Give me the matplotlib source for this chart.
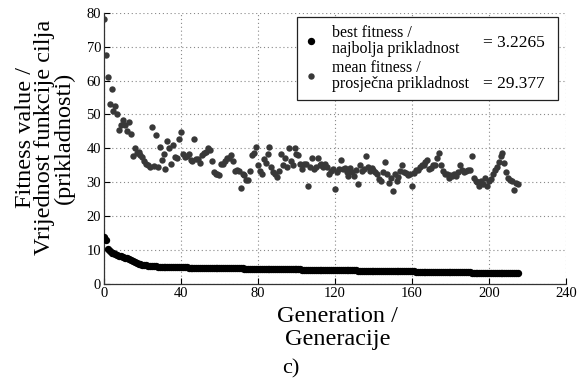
import matplotlib
matplotlib.use("Agg")
import matplotlib.pyplot as plt

generations = list(range(0, 216))

best_fitness = [
    13.8, 12.9, 10.4, 9.6, 9.2, 9.0, 8.8, 8.6, 8.4, 8.2,
    8.0, 7.8, 7.6, 7.3, 7.0, 6.7, 6.4, 6.2, 6.0, 5.8,
    5.7, 5.6, 5.5, 5.45, 5.4, 5.3, 5.25, 5.2, 5.15, 5.1,
    5.05, 5.0, 5.0, 4.98, 4.96, 4.95, 4.94, 4.93, 4.92, 4.91,
    4.9, 4.89, 4.88, 4.87, 4.86, 4.85, 4.84, 4.83, 4.82, 4.81,
    4.8, 4.79, 4.78, 4.77, 4.76, 4.75, 4.74, 4.73, 4.72, 4.71,
    4.7, 4.69, 4.68, 4.67, 4.66, 4.65, 4.64, 4.63, 4.62, 4.61,
    4.6, 4.59, 4.58, 4.57, 4.56, 4.55, 4.54, 4.53, 4.52, 4.51,
    4.5, 4.49, 4.48, 4.47, 4.46, 4.45, 4.44, 4.43, 4.42, 4.41,
    4.4, 4.39, 4.38, 4.37, 4.36, 4.35, 4.34, 4.33, 4.32, 4.31,
    4.3, 4.29, 4.28, 4.27, 4.26, 4.25, 4.24, 4.23, 4.22, 4.21,
    4.2, 4.19, 4.18, 4.17, 4.16, 4.15, 4.14, 4.13, 4.12, 4.11,
    4.1, 4.09, 4.08, 4.07, 4.06, 4.05, 4.04, 4.03, 4.02, 4.01,
    4.0, 3.99, 3.98, 3.97, 3.96, 3.95, 3.94, 3.93, 3.92, 3.91,
    3.9, 3.89, 3.88, 3.87, 3.86, 3.85, 3.84, 3.83, 3.82, 3.81,
    3.8, 3.79, 3.78, 3.77, 3.76, 3.75, 3.74, 3.73, 3.72, 3.71,
    3.7, 3.69, 3.68, 3.67, 3.66, 3.65, 3.64, 3.63, 3.62, 3.61,
    3.6, 3.59, 3.58, 3.57, 3.56, 3.55, 3.54, 3.53, 3.52, 3.51,
    3.5, 3.49, 3.48, 3.47, 3.46, 3.45, 3.44, 3.43, 3.42, 3.41,
    3.4, 3.39, 3.38, 3.37, 3.36, 3.35, 3.34, 3.33, 3.32, 3.31,
    3.3, 3.29, 3.28, 3.27, 3.26, 3.25, 3.24, 3.24, 3.23, 3.23,
    3.23, 3.2265, 3.2265, 3.2265, 3.2265, 3.2265,
]

mean_fitness = [
    78.0, 67.5, 61.0, 53.0, 57.5, 51.0, 52.5, 50.0, 45.3, 46.8,
    48.5, 47.0, 45.0, 47.7, 44.2, 37.8, 40.0, 38.5, 39.0, 38.0,
    37.5, 36.4, 35.5, 35.0, 34.6, 46.2, 34.8, 43.9, 34.5, 40.5,
    36.7, 38.4, 34.0, 42.2, 40.0, 35.3, 41.0, 37.5, 37.3, 42.7,
    44.8, 38.4, 37.5, 37.8, 38.4, 36.7, 36.2, 42.8, 37.0, 37.0,
    35.6, 37.9, 38.6, 39.0, 40.0, 39.5, 36.2, 33.0, 32.4, 32.4,
    32.2, 35.3, 35.3, 36.2, 37.3, 37.3, 38.0, 36.2, 33.2, 33.5,
    33.2, 28.3, 32.4, 32.2, 30.6, 30.6, 33.2, 37.9, 38.5, 40.5,
    35.0, 33.2, 32.4, 37.0, 35.6, 38.4, 40.5, 34.6, 33.0, 32.4,
    31.5, 33.2, 38.4, 35.0, 37.3, 34.6, 40.0, 36.2, 35.0, 40.0,
    38.4, 38.0, 35.3, 33.8, 35.3, 35.3, 28.9, 34.6, 37.3, 33.8,
    34.6, 37.3, 35.0, 35.3, 34.5, 35.3, 34.6, 32.4, 33.2, 34.0,
    28.0, 33.0, 34.0, 36.6, 34.0, 34.2, 33.0, 31.8, 34.2, 33.0,
    31.8, 33.5, 29.4, 35.2, 33.3, 34.0, 37.6, 34.5, 33.3, 34.2,
    33.7, 33.0, 32.3, 31.0, 30.3, 33.0, 36.1, 32.3, 29.9, 31.3,
    27.5, 32.3, 30.3, 31.5, 33.3, 35.2, 33.0, 32.8, 32.0, 32.3,
    28.9, 32.8, 33.5, 33.7, 34.5, 35.2, 35.0, 36.1, 36.6, 34.0,
    34.2, 35.0, 35.2, 37.1, 38.6, 35.2, 33.3, 32.5, 32.3, 31.3,
    32.0, 31.8, 32.5, 31.8, 33.0, 35.2, 33.7, 33.0, 33.3, 33.5,
    33.7, 37.6, 31.3, 30.3, 30.0, 28.9, 30.3, 29.5, 31.3, 28.9,
    30.3, 31.0, 32.3, 33.7, 34.5, 36.1, 37.8, 38.6, 35.6, 33.0,
    31.3, 30.8, 30.3, 27.7, 29.9, 29.6,
]

x_ticks = [0, 40, 80, 120, 160, 200, 240]
y_ticks = [0, 10, 20, 30, 40, 50, 60, 70, 80]
legend_labels = ["best fitness /\nnajbolja prikladnost", "mean fitness /\nprosječna prikladnost"]
legend_values = ["= 3.2265", "= 29.377"]

plt.rcParams["font.family"] = ["Liberation Serif", "DejaVu Serif"]

fig = plt.figure(figsize=(5.77, 3.80), dpi=100)
ax = fig.add_axes([0.180, 0.2526, 0.801, 0.714])

ax.plot(generations, mean_fitness, "o", color="#383838", markersize=4.6,
        markeredgewidth=0, label=legend_labels[1], zorder=3)
ax.plot(generations, best_fitness, "o", color="#000000", markersize=5.3,
        markeredgewidth=0, label=legend_labels[0], zorder=4)

ax.set_xlim(0, 240)
ax.set_ylim(0, 80)
ax.set_xticks(x_ticks)
ax.set_yticks(y_ticks)
ax.tick_params(direction="in", length=4, width=0.8, labelsize=10.5, pad=2,
               top=False, right=False)
ax.grid(True, linestyle=(0, (1, 2.5)), color="#888888", linewidth=0.8)
for s in ["top", "right"]:
    ax.spines[s].set_visible(False)
for s in ["left", "bottom"]:
    ax.spines[s].set_linewidth(0.9)
    ax.spines[s].set_color("#333333")

ax.set_xlabel("Generation /\nGeneracije", fontsize=17.5, linespacing=1.15)
ax.xaxis.label.set(va="top")
ax.xaxis.set_label_coords(0.505, -0.08)

ax.set_ylabel("Fitness value /\nVrijednost funkcije cilja\n(prikladnosti)",
              fontsize=17.5, linespacing=0.9)
ax.yaxis.label.set(rotation_mode="default", ha="center", va="center")
ax.yaxis.set_label_coords(-0.128, 0.54)

handles, labels = ax.get_legend_handles_labels()
order = [1, 0]
leg = ax.legend([handles[i] for i in order], [labels[i] for i in order],
                loc="upper left", bbox_to_anchor=(0.418, 0.668, 0.565, 0.317),
                mode="expand", fontsize=11.5, frameon=True, fancybox=False,
                edgecolor="#222222", framealpha=1, borderpad=0.5,
                labelspacing=0.2, handletextpad=0.9, handlelength=0.8,
                borderaxespad=0, markerscale=1.0)
leg.get_frame().set_linewidth(0.9)
leg.set_zorder(10)
for t in leg.get_texts():
    t.set_linespacing(1.0)

fig.text(0.837, 0.876, legend_values[0], fontsize=12.5, ha="left", va="baseline", zorder=11)
fig.text(0.837, 0.768, legend_values[1], fontsize=12.5, ha="left", va="baseline", zorder=11)

fig.text(0.504, 0.03, "c)", fontsize=16, ha="center", va="center")

fig.savefig("out.png", dpi=100)
